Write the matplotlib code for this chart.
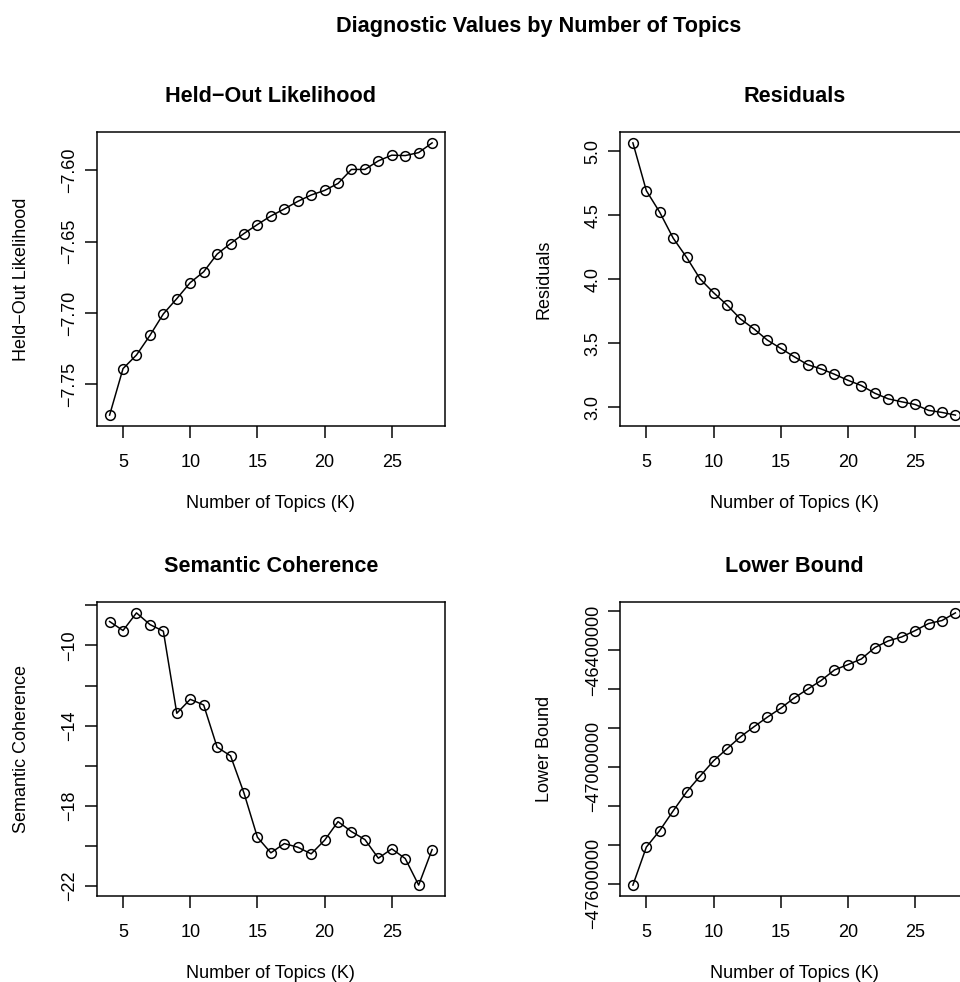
import matplotlib
matplotlib.use("Agg")
import matplotlib.pyplot as plt

plt.rcParams['font.family'] = ['Liberation Sans', 'DejaVu Sans']

# ---------------- data ----------------
K = list(range(4, 29))

heldout = [-7.7716, -7.7390, -7.7295, -7.7158, -7.7007, -7.6900, -7.6788, -7.6712,
           -7.6588, -7.6514, -7.6444, -7.6381, -7.6321, -7.6272, -7.6219, -7.6174,
           -7.6142, -7.6093, -7.5995, -7.5995, -7.5935, -7.5895, -7.5898, -7.5877,
           -7.5809]

residuals = [5.065, 4.692, 4.523, 4.321, 4.171, 4.003, 3.896, 3.800, 3.691, 3.614,
             3.526, 3.461, 3.396, 3.334, 3.301, 3.259, 3.212, 3.171, 3.111, 3.067,
             3.044, 3.023, 2.977, 2.961, 2.940]

semcoh = [-8.806, -9.254, -8.375, -8.955, -9.287, -13.383, -12.687, -12.968,
          -15.075, -15.506, -17.363, -19.569, -20.348, -19.884, -20.066, -20.398,
          -19.718, -18.789, -19.287, -19.685, -20.614, -20.149, -20.630, -21.957,
          -20.182]

bound = [-47606800, -47411900, -47326700, -47225600, -47128400, -47047700,
         -46969300, -46907400, -46846000, -46794900, -46745400, -46699400,
         -46646600, -46601700, -46557400, -46502900, -46475600, -46446600,
         -46388100, -46354000, -46333600, -46301200, -46264800, -46249500,
         -46210200]

x_ticks = [5, 10, 15, 20, 25]

heldout_ticks = [-7.75, -7.70, -7.65, -7.60]
heldout_labels = ['\u22127.75', '\u22127.70', '\u22127.65', '\u22127.60']

resid_ticks = [3.0, 3.5, 4.0, 4.5, 5.0]
resid_labels = ['3.0', '3.5', '4.0', '4.5', '5.0']

sem_ticks = [-22, -20, -18, -16, -14, -12, -10, -8]
sem_labels = ['\u221222', '', '\u221218', '', '\u221214', '', '\u221210', '']

bound_ticks = [-47600000, -47400000, -47200000, -47000000, -46800000,
               -46600000, -46400000, -46200000]
bound_labels = ['\u221247600000', '', '', '\u221247000000', '', '',
                '\u221246400000', '']

suptitle = "Diagnostic Values by Number of Topics"
xlab = "Number of Topics (K)"

panels = [
    ("Held\u2212Out Likelihood", heldout, heldout_ticks, heldout_labels),
    ("Residuals", residuals, resid_ticks, resid_labels),
    ("Semantic Coherence", semcoh, sem_ticks, sem_labels),
    ("Lower Bound", bound, bound_ticks, bound_labels),
]

# ---------------- layout ----------------
W, H = 960, 982
fig = plt.figure(figsize=(W / 100, H / 100), dpi=100)

FS = 12.96      # 18 px
TFS = 15.55     # 21.6 px
LW = 1.08

ax_w = 348.3 / W
ax_h = 294.0 / H
lefts = [96.7 / W, 620.0 / W]
bottoms = [1 - 426.0 / H, 1 - 896.0 / H]

for i, (title, vals, yt, yl) in enumerate(panels):
    r, c = divmod(i, 2)
    ax = fig.add_axes([lefts[c], bottoms[r], ax_w, ax_h])
    ax.plot(K, vals, color='black', linewidth=LW, marker='o', markersize=7.0,
            markerfacecolor='none', markeredgecolor='black', markeredgewidth=LW)
    ax.margins(x=0.04, y=0.04)
    ax.set_xticks(x_ticks)
    ax.set_xticklabels([str(t) for t in x_ticks])
    ax.set_yticks(yt)
    ax.set_yticklabels(yl)
    for s in ax.spines.values():
        s.set_linewidth(LW)
    ax.tick_params(axis='both', direction='out', length=8.3, width=LW,
                   labelsize=FS, colors='black')
    ax.tick_params(axis='x', pad=12.2)
    ax.tick_params(axis='y', pad=4.8, labelrotation=90)
    for lab in ax.get_yticklabels():
        lab.set_verticalalignment('center')
    ax.set_xlabel(xlab, fontsize=FS, labelpad=17)
    ax.set_ylabel(title, fontsize=FS, labelpad=23)
    ax.set_title(title, fontsize=TFS, fontweight='bold', pad=21.7)

fig.text(539 / W, 1 - 32 / H, suptitle, ha='center', va='baseline',
         fontsize=TFS, fontweight='bold')

fig.savefig("out.png", dpi=100)
